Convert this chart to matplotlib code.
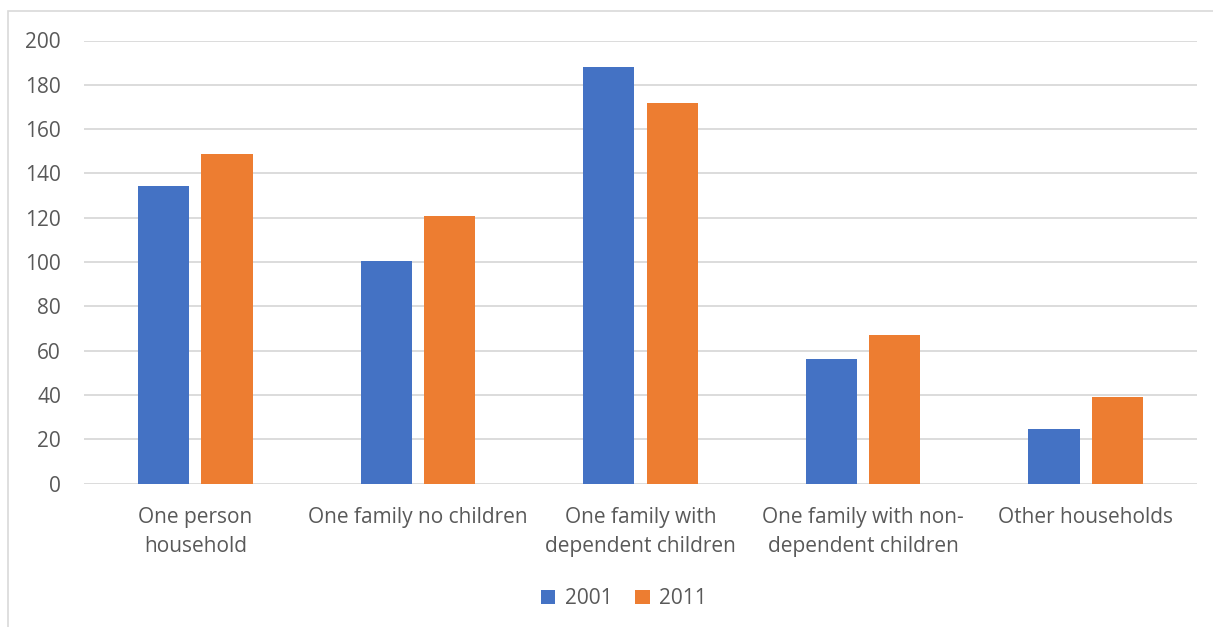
import numpy as np
import matplotlib.pyplot as plt
from matplotlib.patches import Rectangle

# Households by type, 2001 vs 2011
categories = ['One person\nhousehold', 'One family no children',
              'One family with\ndependent children',
              'One family with non-\ndependent children', 'Other households']
values_2001 = [134.3, 100.6, 188.2, 56.2, 24.5]
values_2011 = [148.8, 120.9, 171.8, 66.9, 38.9]
years = ['2001', '2011']
yticks = list(range(0, 201, 20))

COLORS = {'2001': '#4472C4', '2011': '#ED7D31'}
TEXT = '#595959'
GRID = '#D9D9D9'

plt.rcParams['font.family'] = ['Open Sans', 'DejaVu Sans']

W, H = 1213, 627
fig = plt.figure(figsize=(W / 100, H / 100), dpi=100)

# light chart-area border (left and top edges visible)
fig.patches.append(Rectangle((8 / W, -0.1), 1.2, (H - 11) / H + 0.1,
                             transform=fig.transFigure, fill=False,
                             edgecolor=GRID, linewidth=1.2))

ax = fig.add_axes([84 / W, (H - 483.5) / H, (1197 - 84) / W, (483.5 - 40.5) / H])

x = np.arange(len(categories))
width = 0.23
offset = 0.142
ax.bar(x - offset, values_2001, width, color=COLORS['2001'], label=years[0], zorder=3)
ax.bar(x + offset, values_2011, width, color=COLORS['2011'], label=years[1], zorder=3)

ax.set_xlim(-0.5, len(categories) - 0.5)
ax.set_ylim(0, 200)
ax.set_yticks(yticks)
ax.yaxis.grid(True, color=GRID, linewidth=1.3, zorder=0)
ax.set_axisbelow(True)
for s in ax.spines.values():
    s.set_visible(False)

ax.set_xticks(x)
ax.set_xticklabels(categories, fontsize=15, color=TEXT, linespacing=1.5)
ax.tick_params(axis='x', length=0, pad=17)
ax.tick_params(axis='y', length=0, pad=16.5, labelsize=15, labelcolor=TEXT)
for lbl in ax.get_xticklabels():
    lbl.set_verticalalignment('top')

ax.legend(loc='center', bbox_to_anchor=(0.485, -0.26), ncol=2, frameon=False,
          fontsize=15, labelcolor=TEXT, handlelength=0.7, handleheight=0.7,
          handletextpad=0.45, columnspacing=1.1)

fig.savefig('out.png', dpi=100)
